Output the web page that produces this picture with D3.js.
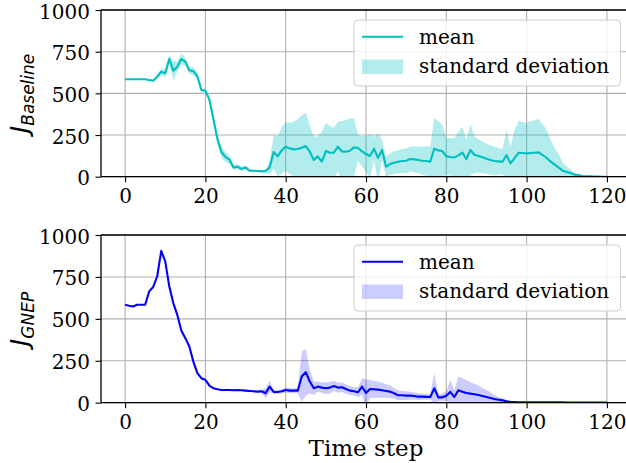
<!DOCTYPE html>
<html>
<head>
<meta charset="utf-8">
<script src="https://cdn.jsdelivr.net/npm/d3@7"></script>
<style>
  body { margin: 0; background: #fff; }
  svg { display: block; }
  .tick text { font-family: "DejaVu Serif", serif; font-size: 20px; fill: #000; }
  .domain { display: none; }
</style>
</head>
<body>
<div id="chart"></div>
<script>
// time steps 0..120
var steps = d3.range(0, 121);

// J Baseline, mean and std per step
var baseMean = [
  585, 585, 585, 585, 585, 585, 580, 576, 600, 630,
  620, 706, 636, 660, 706, 690, 638, 634, 602, 520,
  516, 462, 345, 225, 148, 118, 102, 55, 60, 46,
  56, 36, 36, 34, 32, 34, 55, 148, 122, 158,
  180, 170, 164, 166, 174, 184, 150, 100, 122, 90,
  154, 144, 144, 180, 152, 150, 156, 176, 172, 152,
  136, 124, 168, 112, 160, 60, 76, 84, 90, 94,
  96, 106, 104, 100, 96, 94, 90, 168, 158, 154,
  122, 118, 116, 128, 144, 106, 160, 132, 124, 116,
  108, 100, 94, 92, 90, 130, 80, 112, 144, 142,
  140, 142, 144, 146, 130, 112, 90, 72, 54, 36,
  28, 20, 12, 8, 4, 3, 2, 1, 1, 0,
  0
];
var baseStd = [
  0, 0, 0, 0, 0, 0, 5, 5, 10, 20,
  25, 25, 60, 30, 35, 25, 20, 25, 20, 10,
  10, 15, 25, 30, 35, 30, 25, 15, 15, 12,
  10, 8, 6, 6, 6, 10, 40, 100, 120, 140,
  145, 155, 165, 180, 195, 200, 160, 140, 120, 180,
  170, 160, 150, 150, 180, 190, 195, 175, 80, 90,
  110, 130, 70, 150, 60, 60, 65, 68, 70, 72,
  75, 75, 78, 80, 85, 88, 90, 185, 175, 160,
  110, 112, 115, 140, 155, 115, 155, 110, 100, 95,
  90, 88, 86, 80, 76, 150, 100, 170, 190, 185,
  184, 190, 195, 200, 185, 170, 130, 100, 80, 50,
  35, 22, 12, 8, 5, 3, 1, 1, 0, 0,
  0
];

// J GNEP, mean and std per step
var gnepMean = [
  584, 578, 574, 584, 584, 584, 664, 690, 754, 905,
  843, 694, 594, 524, 430, 385, 335, 245, 176, 146,
  136, 102, 86, 80, 76, 76, 76, 74, 76, 74,
  72, 70, 68, 66, 68, 56, 96, 64, 64, 68,
  76, 72, 72, 72, 156, 182, 126, 86, 96, 90,
  86, 90, 100, 90, 92, 82, 72, 68, 62, 96,
  58, 82, 80, 78, 74, 70, 66, 56, 44, 44,
  42, 42, 40, 36, 36, 35, 34, 86, 32, 32,
  42, 64, 34, 74, 66, 58, 54, 50, 46, 40,
  34, 28, 22, 18, 14, 8, 5, 4, 3, 2,
  2, 2, 2, 2, 2, 2, 2, 2, 2, 2,
  1, 1, 1, 1, 1, 1, 1, 1, 1, 1,
  1
];
var gnepStd = [
  2, 2, 2, 2, 2, 2, 2, 2, 2, 4,
  10, 15, 15, 12, 10, 8, 8, 8, 8, 8,
  8, 5, 5, 5, 5, 5, 5, 5, 5, 5,
  5, 5, 5, 5, 10, 30, 35, 10, 10, 12,
  15, 15, 14, 15, 150, 140, 70, 40, 30, 32,
  34, 35, 30, 30, 28, 28, 26, 24, 30, 50,
  80, 55, 50, 48, 45, 40, 38, 32, 30, 28,
  26, 24, 22, 20, 18, 17, 16, 90, 22, 22,
  30, 70, 40, 82, 80, 76, 70, 62, 56, 48,
  42, 34, 24, 18, 12, 8, 5, 3, 2, 1,
  1, 1, 1, 1, 1, 1, 1, 1, 1, 1,
  0, 0, 0, 0, 0, 0, 0, 0, 0, 0,
  0
];

var yTicks = [0, 250, 500, 750, 1000];
var xTicks = [0, 20, 40, 60, 80, 100, 120];
var legendLabels = ["mean", "standard deviation"];

var W = 626, H = 463;
var svg = d3.select("#chart").append("svg")
    .attr("width", W)
    .attr("height", H);

var x = d3.scaleLinear().domain([-6, 126]).range([101, 631]);

var panels = [
  {mean: baseMean, std: baseStd, top: 10, bottom: 176.7, line: "#00bfbf", fill: "#00bfbf", alpha: 0.3, label: "Baseline", id: "a"},
  {mean: gnepMean, std: gnepStd, top: 235, bottom: 402.7, line: "#0000ff", fill: "#0000ff", alpha: 0.2, label: "GNEP", id: "b"}
];

panels.forEach(function(p) {
    var y = d3.scaleLinear().domain([0, 1000]).range([p.bottom, p.top]);
    var g = svg.append("g");

    g.append("clipPath").attr("id", "clip-" + p.id)
        .append("rect")
        .attr("x", x.range()[0]).attr("y", p.top)
        .attr("width", x.range()[1] - x.range()[0])
        .attr("height", p.bottom - p.top);

    // grid
    g.append("g").selectAll("line").data(xTicks).enter().append("line")
        .attr("x1", function(d) { return x(d); })
        .attr("x2", function(d) { return x(d); })
        .attr("y1", p.top).attr("y2", p.bottom)
        .attr("stroke", "#b0b0b0").attr("stroke-width", 1.1);
    g.append("g").selectAll("line").data(yTicks).enter().append("line")
        .attr("x1", x.range()[0]).attr("x2", x.range()[1])
        .attr("y1", function(d) { return y(d); })
        .attr("y2", function(d) { return y(d); })
        .attr("stroke", "#b0b0b0").attr("stroke-width", 1.1);

    var area = d3.area()
        .x(function(d, i) { return x(steps[i]); })
        .y0(function(d, i) { return y(p.mean[i] - p.std[i]); })
        .y1(function(d, i) { return y(p.mean[i] + p.std[i]); });

    var line = d3.line()
        .x(function(d, i) { return x(steps[i]); })
        .y(function(d) { return y(d); });

    var plot = g.append("g").attr("clip-path", "url(#clip-" + p.id + ")");
    plot.append("path")
        .attr("d", area(p.mean))
        .attr("fill", p.fill)
        .attr("fill-opacity", p.alpha);
    plot.append("path")
        .attr("d", line(p.mean))
        .attr("fill", "none")
        .attr("stroke", p.line)
        .attr("stroke-width", 2.1)
        .attr("stroke-linejoin", "round");

    // axes
    g.append("g")
        .attr("transform", "translate(" + x.range()[0] + ",0)")
        .call(d3.axisLeft(y).tickValues(yTicks).tickFormat(d3.format("d")).tickSize(5.5).tickPadding(5.5))
        .call(function(s) {
            s.selectAll(".tick line").attr("stroke", "#000").attr("stroke-width", 1.1);
            s.selectAll(".tick text").attr("dy", "0.4em");
        });
    g.append("g")
        .attr("transform", "translate(0," + p.bottom + ")")
        .call(d3.axisBottom(x).tickValues(xTicks).tickFormat(d3.format("d")).tickSize(5.5).tickPadding(7))
        .call(function(s) { s.selectAll(".tick line").attr("stroke", "#000").attr("stroke-width", 1.1); });

    // spines
    var sp = g.append("g").attr("stroke", "#000").attr("stroke-width", 1.3).attr("fill", "none");
    sp.append("line").attr("x1", x.range()[0]).attr("x2", x.range()[0]).attr("y1", p.top).attr("y2", p.bottom);
    sp.append("line").attr("x1", x.range()[0]).attr("x2", x.range()[1]).attr("y1", p.top).attr("y2", p.top);
    sp.append("line").attr("x1", x.range()[0]).attr("x2", x.range()[1]).attr("y1", p.bottom).attr("y2", p.bottom);

    // y label
    var cy = (p.top + p.bottom) / 2;
    var lab = g.append("text")
        .attr("transform", "translate(28," + cy + ") rotate(-90)")
        .attr("text-anchor", "middle")
        .style("font-family", "'DejaVu Sans', sans-serif")
        .style("font-style", "italic");
    lab.append("tspan").style("font-size", "24.5px").text("J");
    lab.append("tspan").style("font-size", "17px").attr("dy", 6).text(p.label);

    // legend
    var lx = 354, ly = p.top + 10;
    var leg = g.append("g");
    leg.append("rect")
        .attr("x", lx).attr("y", ly)
        .attr("width", 266.5).attr("height", 66)
        .attr("rx", 4).attr("ry", 4)
        .attr("fill", "#fff").attr("fill-opacity", 0.8)
        .attr("stroke", "#cccccc").attr("stroke-width", 1);
    leg.append("line")
        .attr("x1", lx + 8).attr("x2", lx + 49)
        .attr("y1", ly + 16.7).attr("y2", ly + 16.7)
        .attr("stroke", p.line).attr("stroke-width", 2.1);
    leg.append("rect")
        .attr("x", lx + 8).attr("y", ly + 39.5)
        .attr("width", 41).attr("height", 14.5)
        .attr("fill", p.fill).attr("fill-opacity", p.alpha);
    leg.selectAll("text.lg").data(legendLabels).enter().append("text")
        .attr("class", "lg")
        .attr("x", lx + 65)
        .attr("y", function(d, i) { return ly + 24 + i * 29; })
        .style("font-family", "'DejaVu Serif', serif")
        .style("font-size", "20px")
        .text(function(d) { return d; });
});

svg.append("text")
    .attr("x", 366).attr("y", 456)
    .attr("text-anchor", "middle")
    .style("font-family", "'DejaVu Serif', serif")
    .style("font-size", "23px")
    .text("Time step");
</script>
</body>
</html>
